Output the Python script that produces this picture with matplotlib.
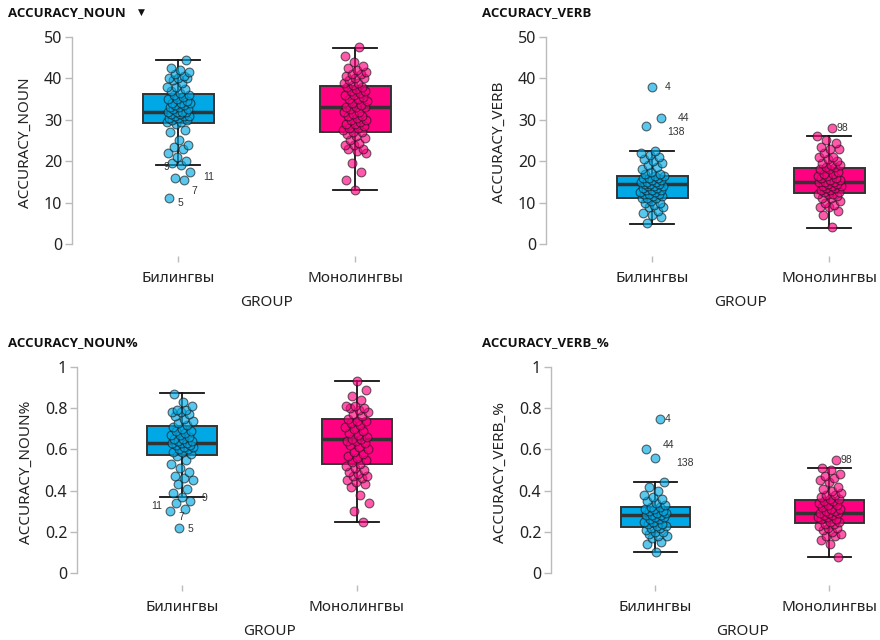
import matplotlib
matplotlib.use('Agg')
import matplotlib.pyplot as plt
import numpy as np

plt.rcParams['font.family'] = ['Noto Sans', 'DejaVu Sans']

# ── data ──────────────────────────────────────────────────────────────────────
groups = ['Билингвы', 'Монолингвы']

noun_bil = [11, 15.5, 16, 17.5, 19, 19.5, 20, 21, 22, 23, 23.5, 24, 25, 27, 27.5,
            29, 29.5, 29.5, 30, 30, 30.5, 30.5, 31, 31, 31, 31.5, 31.5, 32, 32, 32,
            32, 32.5, 32.5, 33, 33, 33.5, 33.5, 34, 34, 34, 34.5, 35, 35, 35.5, 36,
            36, 36.5, 37, 37.5, 38, 38, 39, 39.5, 40, 40, 40, 40.5, 41, 41.5, 42,
            42.5, 44.5]
noun_mon = [13, 15.5, 17.5, 19.5, 22, 22.5, 23, 23, 24, 24, 24.5, 25, 25.5, 26,
            26.5, 27, 27, 27.5, 28, 28, 28.5, 29, 29, 29.5, 30, 30, 30.5, 31, 31,
            31.5, 32, 32, 32.5, 33, 33, 33, 33.5, 34, 34.5, 35, 35, 35.5, 36, 36,
            36.5, 37, 37, 37.5, 38, 38, 38.5, 39, 39, 39.5, 40, 40, 40.5, 41, 41,
            41.5, 42, 42.5, 43, 44, 45.5, 47.5]
verb_bil = [5, 6.5, 7, 7.5, 8, 9, 9, 9.5, 10, 10, 10.5, 11, 11, 11, 11.5, 11.5,
            12, 12, 12, 12.5, 12.5, 13, 13, 13, 13.5, 13.5, 14, 14, 14, 14.5, 14.5,
            14.5, 15, 15, 15, 15.5, 15.5, 16, 16, 16, 16.5, 16.5, 17, 17, 17.5, 18,
            18.5, 19, 19.5, 20, 20.5, 21, 21.5, 22, 22.5, 28.5, 30.5, 38]
verb_mon = [4, 7, 8, 9, 9, 9.5, 10, 10.5, 11, 11, 11.5, 12, 12, 12, 12.5, 12.5,
            13, 13, 13.5, 13.5, 14, 14, 14, 14.5, 14.5, 15, 15, 15, 15.5, 15.5, 16,
            16, 16.5, 16.5, 17, 17, 17.5, 18, 18, 18.5, 18.5, 19, 19, 19.5, 20,
            20.5, 21, 21, 22, 23, 23, 23.5, 24.5, 25, 26, 28]
nounp_bil = [0.22, 0.30, 0.31, 0.34, 0.35, 0.37, 0.39, 0.41, 0.43, 0.45, 0.46,
             0.47, 0.49, 0.51, 0.53, 0.55, 0.57, 0.58, 0.59, 0.59, 0.60, 0.60,
             0.61, 0.61, 0.62, 0.62, 0.63, 0.63, 0.63, 0.64, 0.64, 0.65, 0.65,
             0.66, 0.67, 0.67, 0.68, 0.69, 0.69, 0.70, 0.71, 0.72, 0.73, 0.74,
             0.75, 0.76, 0.77, 0.78, 0.78, 0.79, 0.79, 0.81, 0.83, 0.87]
nounp_mon = [0.25, 0.30, 0.34, 0.38, 0.42, 0.43, 0.44, 0.45, 0.46, 0.47, 0.47,
             0.48, 0.49, 0.50, 0.51, 0.52, 0.53, 0.54, 0.55, 0.56, 0.57, 0.58,
             0.59, 0.60, 0.61, 0.62, 0.63, 0.64, 0.64, 0.65, 0.65, 0.66, 0.67,
             0.68, 0.69, 0.70, 0.71, 0.72, 0.73, 0.74, 0.74, 0.75, 0.76, 0.77,
             0.78, 0.79, 0.80, 0.80, 0.81, 0.81, 0.84, 0.86, 0.89, 0.93]
verbp_bil = [0.10, 0.14, 0.15, 0.17, 0.18, 0.18, 0.19, 0.20, 0.20, 0.21, 0.22,
             0.22, 0.23, 0.23, 0.24, 0.24, 0.25, 0.25, 0.26, 0.26, 0.27, 0.27,
             0.28, 0.28, 0.28, 0.29, 0.29, 0.30, 0.30, 0.31, 0.31, 0.32, 0.32,
             0.33, 0.34, 0.35, 0.36, 0.37, 0.38, 0.40, 0.42, 0.44, 0.56, 0.60, 0.75]
verbp_mon = [0.08, 0.14, 0.16, 0.18, 0.18, 0.19, 0.20, 0.21, 0.22, 0.22, 0.23,
             0.24, 0.24, 0.25, 0.25, 0.26, 0.26, 0.27, 0.27, 0.28, 0.28, 0.29,
             0.29, 0.29, 0.30, 0.30, 0.31, 0.31, 0.32, 0.33, 0.33, 0.34, 0.35,
             0.35, 0.36, 0.36, 0.37, 0.38, 0.38, 0.39, 0.40, 0.41, 0.42, 0.44,
             0.45, 0.46, 0.47, 0.48, 0.50, 0.51, 0.55]

# box stats: whisker low, q1, median, q3, whisker high
noun_box_bil = [19.1, 29.15, 32.0, 36.2, 44.4]
noun_box_mon = [13.0, 27.0, 33.0, 38.2, 47.4]
verb_box_bil = [4.9, 11.2, 14.6, 16.5, 22.5]
verb_box_mon = [3.9, 12.2, 15.0, 18.3, 26.0]
nounp_box_bil = [0.371, 0.574, 0.631, 0.714, 0.873]
nounp_box_mon = [0.25, 0.53, 0.653, 0.75, 0.931]
verbp_box_bil = [0.10, 0.223, 0.281, 0.319, 0.44]
verbp_box_mon = [0.079, 0.242, 0.293, 0.355, 0.511]

# labelled outliers (row ids)
noun_bil_out = [11, 15.5, 17.5, 19]
noun_bil_ids = ['5', '7', '11', '9']
verb_bil_out = [38, 30.5, 28.5]
verb_bil_ids = ['4', '44', '138']
verb_mon_out = [28]
verb_mon_ids = ['98']
nounp_bil_out = [0.22, 0.30, 0.34, 0.35]
nounp_bil_ids = ['5', '7', '11', '9']
verbp_bil_out = [0.75, 0.60, 0.56]
verbp_bil_ids = ['4', '44', '138']
verbp_mon_out = [0.55]
verbp_mon_ids = ['98']

yticks_count = [0, 10, 20, 30, 40, 50]
yticks_prop = [0, 0.2, 0.4, 0.6, 0.8, 1]
ytick_labels_prop = ['0', '0.2', '0.4', '0.6', '0.8', '1']

# ── style ─────────────────────────────────────────────────────────────────────
C_BIL = '#00A9E6'
C_MON = '#FF0080'
SPINE = '#BBBBBB'
DARK = '#333333'
W, H = 880, 640

fig = plt.figure(figsize=(8.8, 6.4), dpi=100)
fig.patch.set_facecolor('white')

XLIM = (-0.6, 1.28)
JIT = 0.067
GOLD = 0.6180339887


def jitter(n, seed_shift):
    return np.array([((i * GOLD + seed_shift) % 1.0 - 0.5) * 2 * JIT for i in range(n)])


panels = [
    # title, ylabel, data, boxes, outliers, ticks, ylim, left px, spacing px, bottom px, top px, title pos
    ('ACCURACY_NOUN', 'ACCURACY_NOUN', (noun_bil, noun_mon), (noun_box_bil, noun_box_mon),
     [(0, noun_bil, noun_bil_out, noun_bil_ids, [(6, -3), (5, -8), (10, -4), (-12, -1)])],
     yticks_count, None, (-3, 52), 72, 177, 256.4, 28.7, (8, 13), True),
    ('ACCURACY_VERB', 'ACCURACY_VERB', (verb_bil, verb_mon), (verb_box_bil, verb_box_mon),
     [(0, verb_bil, verb_bil_out, verb_bil_ids, [(9, 0), (12, 0), (15, -4)]),
      (1, verb_mon, verb_mon_out, verb_mon_ids, [(3, 0)])],
     yticks_count, None, (-3, 52), 546, 177, 256.4, 28.7, (482, 13), False),
    ('ACCURACY_NOUN%', 'ACCURACY_NOUN%', (nounp_bil, nounp_mon), (nounp_box_bil, nounp_box_mon),
     [(0, nounp_bil, nounp_bil_out, nounp_bil_ids, [(6, -1), (6, -4), (-18, -2), (8, 2)])],
     yticks_prop, ytick_labels_prop, (-0.06, 1.04), 77, 175, 585.4, 358.8, (8, 343), False),
    ('ACCURACY_VERB_%', 'ACCURACY_VERB_%', (verbp_bil, verbp_mon), (verbp_box_bil, verbp_box_mon),
     [(0, verbp_bil, verbp_bil_out, verbp_bil_ids, [(3, 0), (12, 3), (15, -4)]),
      (1, verbp_mon, verbp_mon_out, verbp_mon_ids, [(3, 0)])],
     yticks_prop, ytick_labels_prop, (-0.06, 1.04), 551, 174, 585.4, 358.8, (482, 343), False),
]

for k, (title, ylabel, data, boxes, outs, yt, ytl, ylim, left, sp, bot, top, tpos, arrow) in enumerate(panels):
    wpx = (XLIM[1] - XLIM[0]) * sp
    ax = fig.add_axes([left / W, 1 - bot / H, wpx / W, (bot - top) / H])
    ax.set_xlim(*XLIM)
    ax.set_ylim(*ylim)

    stats = [dict(whislo=b[0], q1=b[1], med=b[2], q3=b[3], whishi=b[4]) for b in boxes]
    bp = ax.bxp(stats, positions=[0, 1], widths=0.4, patch_artist=True,
                showfliers=False, capwidths=0.25,
                boxprops=dict(edgecolor=DARK, linewidth=1.4),
                medianprops=dict(color=DARK, linewidth=2.5),
                whiskerprops=dict(color='#111111', linewidth=1.3),
                capprops=dict(color='#111111', linewidth=1.3))
    for patch, col in zip(bp['boxes'], (C_BIL, C_MON)):
        patch.set_facecolor(col)
    for line in bp['whiskers'] + bp['caps']:
        line.set_zorder(1)

    xs_all = []
    for g, (vals, col) in enumerate(zip(data, (C_BIL, C_MON))):
        xs = g + jitter(len(vals), 0.13 * (k + 1) + 0.37 * g)
        xs_all.append(xs)
        ax.scatter(xs, vals, s=40, facecolor=col, edgecolor='#1a1a1a',
                   linewidth=0.8, alpha=0.65, zorder=4)

    for g, vals, ovals, oids, offs in outs:
        for v, lab, off in zip(ovals, oids, offs):
            i = int(np.argmin(np.abs(np.array(vals) - v)))
            ax.annotate(lab, xy=(xs_all[g][i], vals[i]), xytext=off,
                        textcoords='offset points', ha='left', va='center',
                        fontsize=7.5, color=DARK, family=['Liberation Sans', 'DejaVu Sans'],
                        zorder=5)

    for s in ('top', 'right', 'bottom'):
        ax.spines[s].set_visible(False)
    ax.spines['left'].set_color(SPINE)
    ax.spines['left'].set_linewidth(1.0)
    ax.spines['left'].set_bounds(yt[0], yt[-1])

    ax.set_yticks(yt)
    if ytl is not None:
        ax.set_yticklabels(ytl)
    ax.set_xticks([0, 1])
    ax.set_xticklabels(groups)
    ax.tick_params(axis='y', direction='out', length=5, width=1.0, color=SPINE,
                   labelsize=11.5, pad=2, labelcolor='#222222')
    ax.tick_params(axis='x', direction='out', length=4.5, width=1.0, color=SPINE,
                   labelsize=11, pad=6, labelcolor='#222222')

    ax.set_ylabel(ylabel, fontsize=11, color='#222222', labelpad=8)
    ax.set_xlabel('GROUP', fontsize=11, color='#222222')
    ax.xaxis.set_label_coords(0.585, -46 / (bot - top))
    ax.xaxis.label.set_va('center')

    fig.text(tpos[0] / W, 1 - tpos[1] / H, title, ha='left', va='center',
             fontsize=9.5, fontweight='bold', color='#111111',
             family=['Open Sans', 'DejaVu Sans'])
    if arrow:
        fig.text(138 / W, 1 - 12 / H, '▼', ha='left', va='center', fontsize=6.5,
                 color='#111111', family=['DejaVu Sans'])

fig.savefig('out.png', dpi=100, facecolor='white')
plt.close(fig)
